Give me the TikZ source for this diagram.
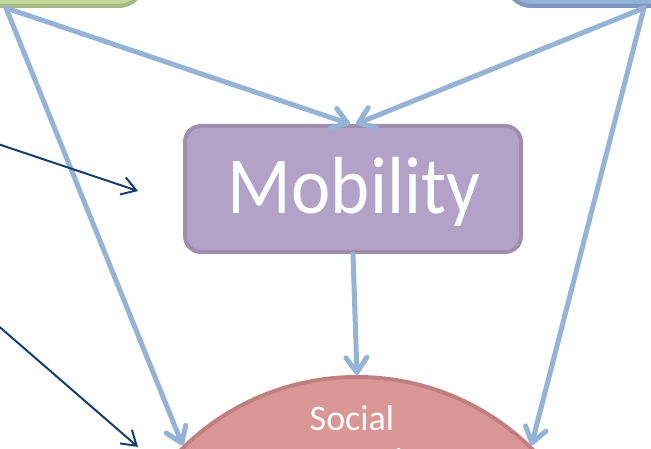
\documentclass[tikz,border=0pt]{standalone}
\usepackage{fontspec}
\setmainfont{Carlito}
\usetikzlibrary{arrows.meta,calc}
\definecolor{arrblue}{RGB}{149,179,215}
\definecolor{darkblue}{RGB}{20,62,112}
\definecolor{greenfill}{RGB}{195,214,155}
\definecolor{greenline}{RGB}{166,185,130}
\definecolor{bluefill}{RGB}{149,179,215}
\definecolor{blueline}{RGB}{125,152,192}
\definecolor{mobfill}{RGB}{179,162,199}
\definecolor{mobline}{RGB}{160,142,175}
\definecolor{socfill}{RGB}{217,150,148}
\definecolor{socline}{RGB}{193,128,128}
\begin{document}
\begin{tikzpicture}[x=1pt,y=-1pt,
  topbox/.style={rectangle, rounded corners=24pt, line width=4pt, inner sep=0pt},
  mobbox/.style={rectangle, rounded corners=16pt, line width=4pt, fill=mobfill, draw=mobline, inner sep=0pt, minimum width=336pt, minimum height=126pt},
  socbox/.style={circle, line width=4pt, fill=socfill, draw=socline, inner sep=0pt, minimum size=498pt},
  lightarrow/.style={draw=arrblue, line width=5pt, line cap=round, -{Straight Barb[length=15pt,width=21pt,round]}},
  darkarrow/.style={draw=darkblue, line width=2pt, -{Straight Barb[length=14pt,width=18pt]}},
  bigtext/.style={text=white, inner sep=0pt, font=\fontsize{81}{90}\selectfont},
  soctext/.style={text=white, inner sep=0pt, font=\fontsize{36}{43}\selectfont}]
\useasboundingbox (0,0) rectangle (651,449);
\clip (0,0) rectangle (651,449);
% top boxes
\node[topbox, fill=greenfill, draw=greenline, minimum width=300pt, minimum height=120pt, anchor=south east] (grn) at (145,8) {};
\node[topbox, fill=bluefill, draw=blueline, minimum width=300pt, minimum height=120pt, anchor=south west] (blu) at (505,8) {};
% middle and bottom shapes
\node[mobbox] (mob) at (353,189) {};
\node[bigtext, anchor=base] (mobt) at (354,214) {\scalebox{0.92}[1]{Mobility}};
\node[socbox] (soc) at (357,626) {};
\node[soctext, anchor=base] (soct1) at (352,430) {Social};
\node[soctext, anchor=base] (soct2) at (357,473) {networks};
% light arrows
\coordinate (gs) at ($(grn.south east)+(-139,0)$);
\coordinate (bs) at ($(blu.south west)+(139,0)$);
\draw[lightarrow] (gs) -- ($(mob.north)+(-3,0)$);
\draw[lightarrow] (bs) -- ($(mob.north)+(3,0)$);
\draw[lightarrow] (gs) -- (soc.134);
\draw[lightarrow] (bs) -- (soc.46);
\draw[lightarrow] (mob.south) -- (soc.north);
% dark arrows
\coordinate (da1) at (-20,138);
\coordinate (de1) at (138,191);
\coordinate (da2) at (-20,310);
\coordinate (de2) at (138,447);
\draw[darkarrow] (da1) -- (de1);
\draw[darkarrow] (da2) -- (de2);
\end{tikzpicture}
\end{document}
